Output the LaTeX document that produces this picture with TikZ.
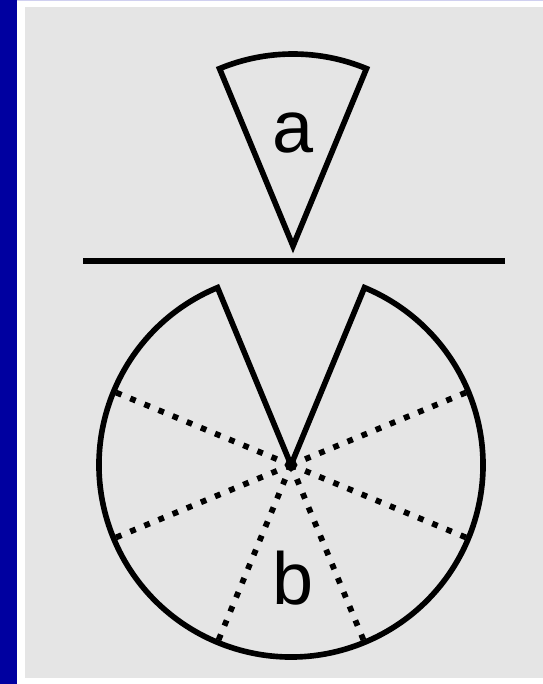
\documentclass[tikz,border=0pt]{standalone}
\usepackage{xcolor}
\usepackage{fontspec}
\setmainfont{Liberation Sans}
\usetikzlibrary{calc}
\definecolor{bandblue}{RGB}{0,0,160}
\definecolor{panelgray}{RGB}{229,229,229}
\definecolor{topline}{RGB}{208,208,240}
\tikzset{
  shape line/.style={line width=3.2pt,line join=miter},
  cut line/.style={line width=3.3pt,dash pattern=on 3.3pt off 5.4pt},
  letter/.style={inner sep=0pt,font=\fontsize{42}{42}\selectfont}
}

\begin{document}
\begin{tikzpicture}[>=latex]
    \useasboundingbox (0,0) rectangle (10.86,13.68);
    % --- frame
    \fill[white] (0,0) rectangle (10.86,13.68);
    \fill[bandblue] (0,0) rectangle (0.34,13.68);
    \fill[topline] (0.34,13.66) rectangle (10.86,13.68);
    \fill[panelgray] (0.5,0.12) rectangle (10.86,13.54);
    % --- the piece a
    \coordinate (tip) at (5.86,8.76);
    \draw[shape line] (tip) -- ++(67.5:3.84) arc[start angle=67.5,end angle=112.5,radius=3.84] -- cycle;
    \node[letter] (a) at (5.86,11.02) {a};
    % --- the table line
    \coordinate (tl) at (1.66,8.46);
    \coordinate (tr) at (10.10,8.46);
    \draw[shape line] (tl) -- (tr);
    % --- the disc b
    \coordinate (c) at (5.82,4.38);
    \draw[shape line] (c) -- ++(112.5:3.84) arc[start angle=112.5,end angle=427.5,radius=3.84] -- cycle;
    \foreach \t [count=\i] in {22.5,157.5,202.5,247.5,292.5,337.5}{
      \coordinate (r\i) at ($(c)+(\t:3.84)$);
      \draw[cut line] (c) -- (r\i);
    }
    \node[letter] (b) at (5.86,2.12) {b};
  \end{tikzpicture}
\end{document}
